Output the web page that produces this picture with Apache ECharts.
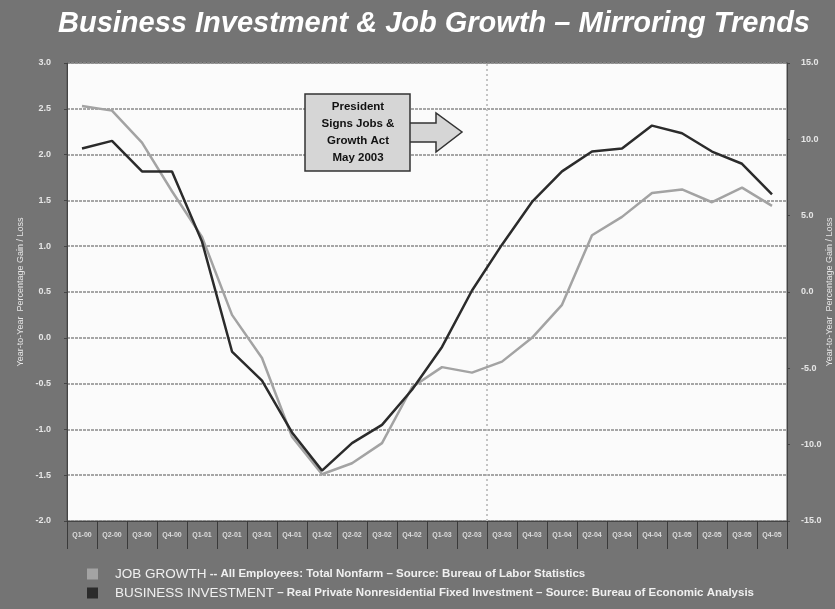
<!DOCTYPE html>
<html>
<head>
<meta charset="utf-8">
<script src="https://cdn.jsdelivr.net/npm/echarts@6/dist/echarts.min.js"></script>
<style>
  html, body { margin: 0; padding: 0; background: #747474; }
  #chart { width: 835px; height: 609px; }
</style>
</head>
<body>
<div id="chart"></div>
<script>
// 季度
var quarters = ['Q1-00', 'Q2-00', 'Q3-00', 'Q4-00', 'Q1-01', 'Q2-01', 'Q3-01', 'Q4-01',
    'Q1-02', 'Q2-02', 'Q3-02', 'Q4-02', 'Q1-03', 'Q2-03', 'Q3-03', 'Q4-03',
    'Q1-04', 'Q2-04', 'Q3-04', 'Q4-04', 'Q1-05', 'Q2-05', 'Q3-05', 'Q4-05'];
// 就业增长 (左轴 %)
var jobGrowth = [2.53, 2.48, 2.13, 1.6, 1.1, 0.25, -0.22, -1.08,
    -1.49, -1.37, -1.15, -0.54, -0.32, -0.38, -0.26, 0.0,
    0.36, 1.12, 1.32, 1.58, 1.62, 1.48, 1.64, 1.44];
// 企业投资 (右轴 %)
var businessInvestment = [9.4, 9.9, 7.9, 7.9, 3.3, -3.9, -5.8, -9.2,
    -11.7, -9.9, -8.7, -6.4, -3.6, 0.1, 3.1, 5.9,
    7.9, 9.2, 9.4, 10.9, 10.4, 9.2, 8.4, 6.4];
// 法案签署位置 (季度刻度, 第14个季度边界)
var actPosition = 14;
var actLine = [[actPosition, -2], [actPosition, 3]];

var legendText = {
    'JOB GROWTH': '{a|JOB GROWTH}{b| -- All Employees: Total Nonfarm – Source: Bureau of Labor Statistics}',
    'BUSINESS INVESTMENT': '{a|BUSINESS INVESTMENT}{b| – Real Private Nonresidential Fixed Investment – Source: Bureau of Economic Analysis}'
};

var myChart = echarts.init(document.getElementById('chart'));
var font = 'Liberation Sans';

var option = {
    backgroundColor: '#747474',
    animation: false,
    textStyle: { fontFamily: font },
    title: {
        text: 'Business Investment & Job Growth – Mirroring Trends',
        left: 53,
        top: 4,
        textStyle: {
            color: '#ffffff',
            fontSize: 29,
            fontStyle: 'italic',
            fontWeight: 'bold',
            fontFamily: font
        }
    },
    legend: {
        orient: 'vertical',
        left: 82,
        top: 562,
        itemWidth: 11,
        itemHeight: 11,
        itemGap: 5,
        icon: 'rect',
        data: ['JOB GROWTH', 'BUSINESS INVESTMENT'],
        formatter: function (name) {
            return legendText[name];
        },
        textStyle: {
            color: '#eeeeee',
            padding: [0, 0, 0, 12],
            rich: {
                a: { fontSize: 13.5, color: '#f0f0f0', fontFamily: font },
                b: { fontSize: 11.5, color: '#f0f0f0', fontFamily: font, fontWeight: 'bold' }
            }
        }
    },
    grid: {
        left: 67,
        right: 48,
        top: 63,
        bottom: 88,
        outerBoundsMode: 'none',
        show: true,
        backgroundColor: '#fbfbfb',
        borderColor: '#555',
        borderWidth: 1
    },
    xAxis: [
        {
            type: 'category',
            data: quarters,
            boundaryGap: true,
            axisLine: { onZero: false, lineStyle: { color: '#444', width: 1 } },
            axisTick: { show: true, length: 28, lineStyle: { color: '#3a3a3a', width: 1 } },
            axisLabel: {
                color: '#dddddd',
                fontSize: 7,
                fontWeight: 'bold',
                interval: 0,
                margin: 11
            }
        },
        {
            // 隐藏的数值轴，用来画法案签署的竖线
            type: 'value',
            min: 0,
            max: 24,
            show: false
        }
    ],
    yAxis: [
        {
            type: 'value',
            min: -2,
            max: 3,
            interval: 0.5,
            name: 'Year-to-Year  Percentage Gain / Loss',
            nameLocation: 'middle',
            nameGap: 42,
            nameRotate: 90,
            nameMoveOverlap: false,
            nameTextStyle: { color: '#e6e6e6', fontSize: 9 },
            axisLine: { show: true, lineStyle: { color: '#444', width: 1 } },
            axisTick: { show: true, length: 3, lineStyle: { color: '#444' } },
            axisLabel: {
                color: '#e6e6e6',
                fontSize: 9,
                fontWeight: 'bold',
                margin: 16,
                formatter: function (v) { return v.toFixed(1); }
            },
            splitLine: {
                show: true,
                lineStyle: { color: '#8a8a8a', width: 1.5, type: [3, 1] }
            }
        },
        {
            type: 'value',
            min: -15,
            max: 15,
            interval: 5,
            position: 'right',
            name: 'Year-to-Year  Percentage Gain / Loss',
            nameLocation: 'middle',
            nameGap: 38,
            nameRotate: 90,
            nameMoveOverlap: false,
            nameTextStyle: { color: '#e6e6e6', fontSize: 9 },
            axisLine: { show: true, lineStyle: { color: '#444', width: 1 } },
            axisTick: { show: true, length: 3, lineStyle: { color: '#444' } },
            axisLabel: {
                color: '#e6e6e6',
                fontSize: 9,
                fontWeight: 'bold',
                margin: 14,
                formatter: function (v) { return v.toFixed(1); }
            },
            splitLine: { show: false }
        }
    ],
    graphic: [
        {
            // 箭头
            type: 'polygon',
            shape: {
                points: [[405, 123], [436, 123], [436, 113], [462, 132], [436, 152], [436, 142], [405, 142]]
            },
            style: { fill: '#d6d6d6', stroke: '#333', lineWidth: 1.5 },
            z: 100
        },
        {
            type: 'rect',
            shape: { x: 305, y: 94, width: 105, height: 77 },
            style: { fill: '#d6d6d6', stroke: '#333', lineWidth: 1.5 },
            z: 101
        },
        {
            type: 'text',
            x: 358,
            y: 98,
            z: 102,
            style: {
                text: 'President\nSigns Jobs &\nGrowth Act\nMay 2003',
                align: 'center',
                fill: '#111',
                font: 'bold 11.5px "Liberation Sans"',
                lineHeight: 17
            }
        }
    ],
    series: [
        {
            name: 'JOB GROWTH',
            type: 'line',
            data: jobGrowth,
            yAxisIndex: 0,
            symbol: 'none',
            itemStyle: { color: '#a3a3a3' },
            lineStyle: { color: '#a3a3a3', width: 2.5 },
            z: 3
        },
        {
            name: 'BUSINESS INVESTMENT',
            type: 'line',
            data: businessInvestment,
            yAxisIndex: 1,
            symbol: 'none',
            itemStyle: { color: '#2b2b2b' },
            lineStyle: { color: '#2b2b2b', width: 2.5 },
            z: 4
        },
        {
            // 法案签署竖线
            name: 'act',
            type: 'line',
            data: actLine,
            xAxisIndex: 1,
            yAxisIndex: 0,
            symbol: 'none',
            silent: true,
            lineStyle: { color: '#c4c4c4', width: 2, type: [2, 3] },
            z: 2
        }
    ]
};

if (option && typeof option === 'object') {
    myChart.setOption(option, true);
}
</script>
</body>
</html>
